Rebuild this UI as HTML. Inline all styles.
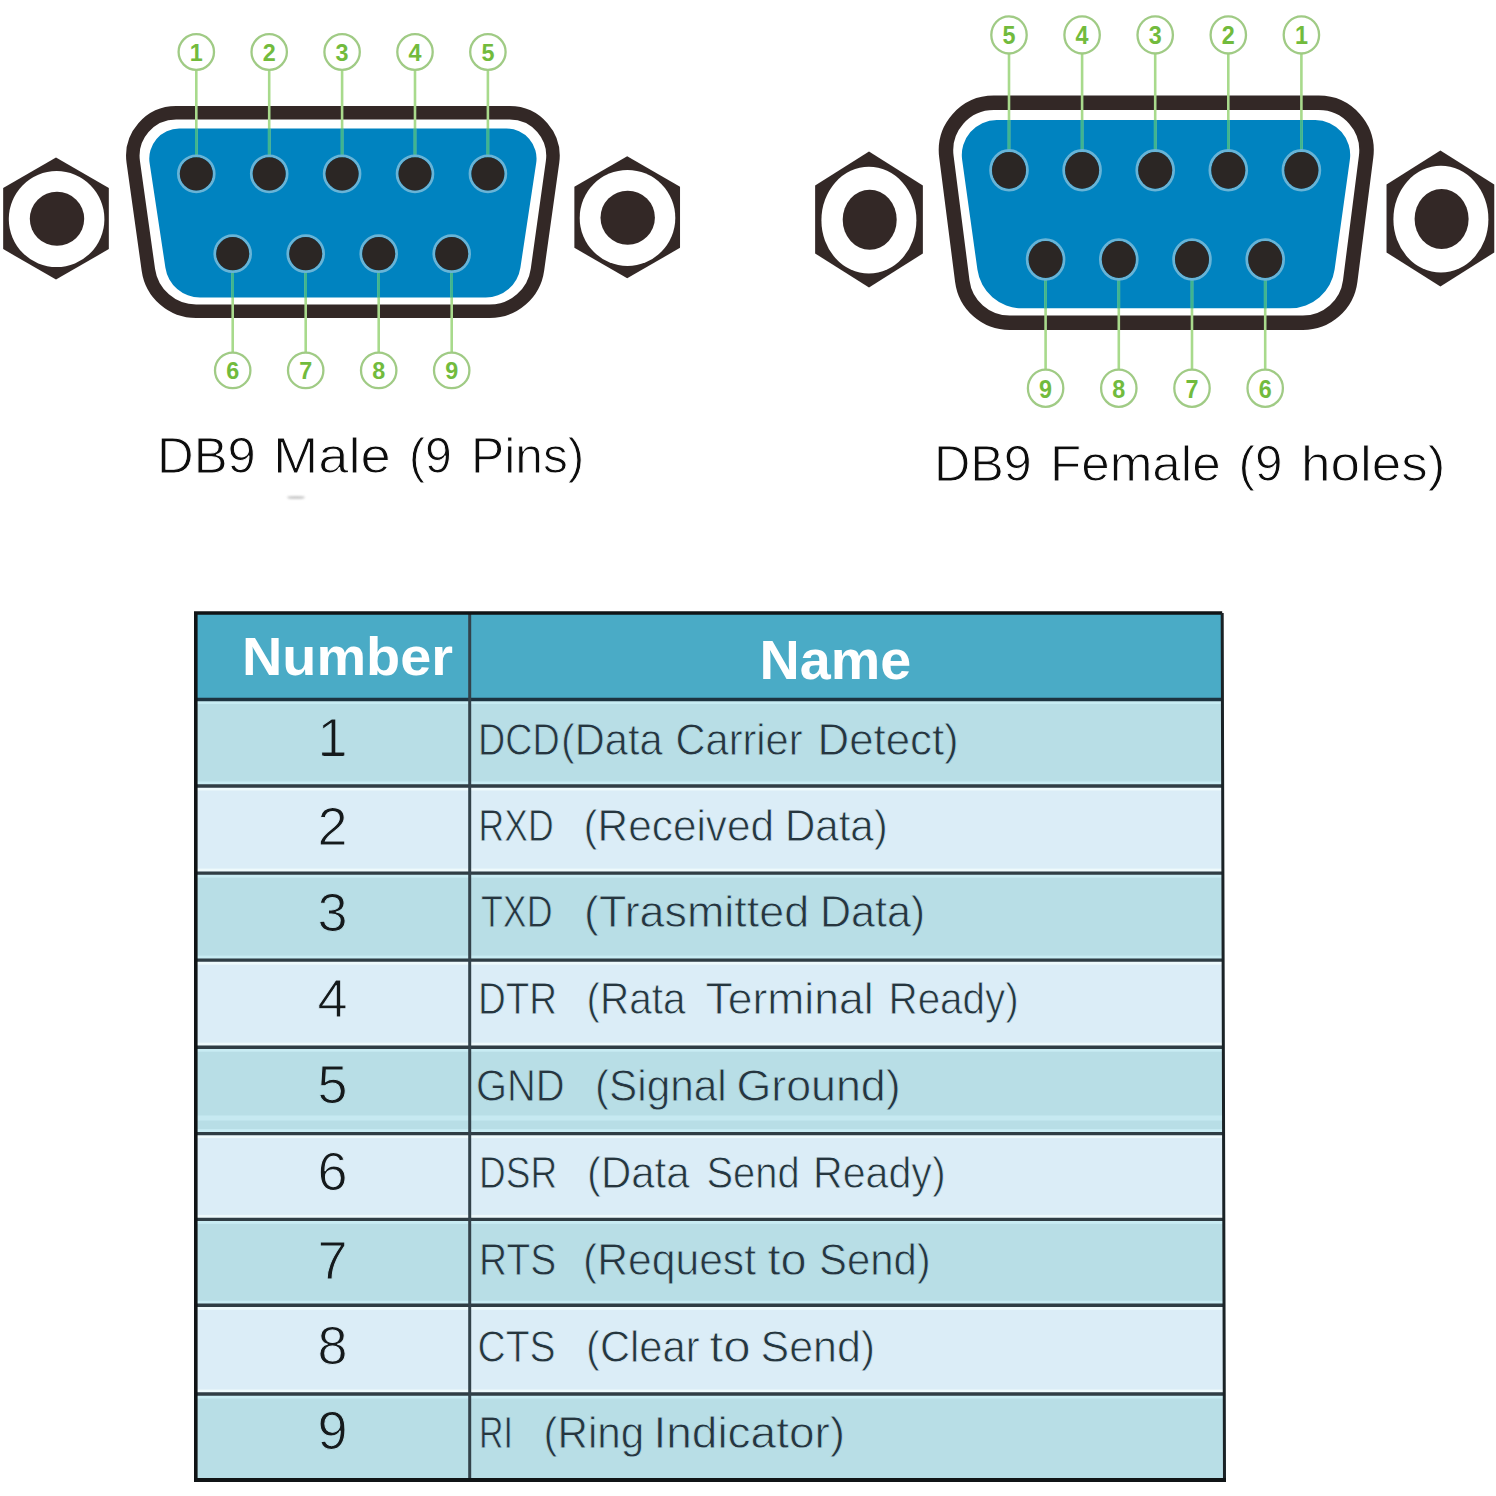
<!DOCTYPE html>
<html><head><meta charset="utf-8"><style>
html,body{margin:0;padding:0;background:#fff;width:1496px;height:1496px;overflow:hidden;}
svg{display:block;}
text{font-family:"Liberation Sans",sans-serif;}
</style></head><body>
<svg width="1496" height="1496" viewBox="0 0 1496 1496">
<rect width="1496" height="1496" fill="#fff"/>
<path d="M148.35,269.69 L133.26,162.00 A43.25,43.25 0 0 1 176.09,112.75 L509.71,112.75 A43.25,43.25 0 0 1 552.54,162.00 L537.45,269.69 A48.25,48.25 0 0 1 489.67,311.25 L196.13,311.25 A48.25,48.25 0 0 1 148.35,269.69 Z" fill="#fff" stroke="#332826" stroke-width="13.50"/>
<path d="M165.41,267.72 L149.60,162.98 A30.00,30.00 0 0 1 179.27,128.50 L506.53,128.50 A30.00,30.00 0 0 1 536.20,162.98 L520.39,267.72 A35.00,35.00 0 0 1 485.78,297.50 L200.02,297.50 A35.00,35.00 0 0 1 165.41,267.72 Z" fill="#0083c0"/>
<polygon points="56.00,157.60 108.83,188.10 108.83,249.10 56.00,279.60 3.17,249.10 3.17,188.10" fill="#332826"/>
<ellipse cx="56.60" cy="219.10" rx="47.80" ry="48.00" fill="#fff"/>
<ellipse cx="57.00" cy="218.80" rx="27.20" ry="27.00" fill="#332826"/>
<polygon points="627.20,156.30 680.03,186.80 680.03,247.80 627.20,278.30 574.37,247.80 574.37,186.80" fill="#332826"/>
<ellipse cx="627.50" cy="217.90" rx="47.80" ry="48.00" fill="#fff"/>
<ellipse cx="627.70" cy="217.70" rx="27.20" ry="27.00" fill="#332826"/>
<line x1="196.30" y1="52.00" x2="196.30" y2="173.80" stroke="#a8da8c" stroke-width="2.6"/>
<line x1="269.20" y1="52.00" x2="269.20" y2="173.80" stroke="#a8da8c" stroke-width="2.6"/>
<line x1="342.10" y1="52.00" x2="342.10" y2="173.80" stroke="#a8da8c" stroke-width="2.6"/>
<line x1="415.00" y1="52.00" x2="415.00" y2="173.80" stroke="#a8da8c" stroke-width="2.6"/>
<line x1="487.90" y1="52.00" x2="487.90" y2="173.80" stroke="#a8da8c" stroke-width="2.6"/>
<line x1="232.70" y1="370.40" x2="232.70" y2="253.70" stroke="#a8da8c" stroke-width="2.6"/>
<line x1="305.70" y1="370.40" x2="305.70" y2="253.70" stroke="#a8da8c" stroke-width="2.6"/>
<line x1="378.70" y1="370.40" x2="378.70" y2="253.70" stroke="#a8da8c" stroke-width="2.6"/>
<line x1="451.70" y1="370.40" x2="451.70" y2="253.70" stroke="#a8da8c" stroke-width="2.6"/>
<line x1="196.30" y1="128.50" x2="196.30" y2="173.80" stroke="#3fb58f" stroke-width="2.6"/>
<line x1="269.20" y1="128.50" x2="269.20" y2="173.80" stroke="#3fb58f" stroke-width="2.6"/>
<line x1="342.10" y1="128.50" x2="342.10" y2="173.80" stroke="#3fb58f" stroke-width="2.6"/>
<line x1="415.00" y1="128.50" x2="415.00" y2="173.80" stroke="#3fb58f" stroke-width="2.6"/>
<line x1="487.90" y1="128.50" x2="487.90" y2="173.80" stroke="#3fb58f" stroke-width="2.6"/>
<line x1="232.70" y1="253.70" x2="232.70" y2="297.50" stroke="#3fb58f" stroke-width="2.6"/>
<line x1="305.70" y1="253.70" x2="305.70" y2="297.50" stroke="#3fb58f" stroke-width="2.6"/>
<line x1="378.70" y1="253.70" x2="378.70" y2="297.50" stroke="#3fb58f" stroke-width="2.6"/>
<line x1="451.70" y1="253.70" x2="451.70" y2="297.50" stroke="#3fb58f" stroke-width="2.6"/>
<ellipse cx="196.30" cy="173.80" rx="17.90" ry="18.00" fill="none" stroke="#68b4d7" stroke-width="2.8"/>
<ellipse cx="196.30" cy="173.80" rx="16.50" ry="16.60" fill="#2b2624"/>
<ellipse cx="196.30" cy="52.00" rx="17.70" ry="17.80" fill="#fff" stroke="#a0cb85" stroke-width="2.3"/>
<text x="196.30" y="60.60" font-family="Liberation Sans" font-weight="bold" font-size="24.0" fill="#72bb3d" text-anchor="middle" textLength="13.0" lengthAdjust="spacingAndGlyphs">1</text>
<ellipse cx="269.20" cy="173.80" rx="17.90" ry="18.00" fill="none" stroke="#68b4d7" stroke-width="2.8"/>
<ellipse cx="269.20" cy="173.80" rx="16.50" ry="16.60" fill="#2b2624"/>
<ellipse cx="269.20" cy="52.00" rx="17.70" ry="17.80" fill="#fff" stroke="#a0cb85" stroke-width="2.3"/>
<text x="269.20" y="60.60" font-family="Liberation Sans" font-weight="bold" font-size="24.0" fill="#72bb3d" text-anchor="middle" textLength="13.0" lengthAdjust="spacingAndGlyphs">2</text>
<ellipse cx="342.10" cy="173.80" rx="17.90" ry="18.00" fill="none" stroke="#68b4d7" stroke-width="2.8"/>
<ellipse cx="342.10" cy="173.80" rx="16.50" ry="16.60" fill="#2b2624"/>
<ellipse cx="342.10" cy="52.00" rx="17.70" ry="17.80" fill="#fff" stroke="#a0cb85" stroke-width="2.3"/>
<text x="342.10" y="60.60" font-family="Liberation Sans" font-weight="bold" font-size="24.0" fill="#72bb3d" text-anchor="middle" textLength="13.0" lengthAdjust="spacingAndGlyphs">3</text>
<ellipse cx="415.00" cy="173.80" rx="17.90" ry="18.00" fill="none" stroke="#68b4d7" stroke-width="2.8"/>
<ellipse cx="415.00" cy="173.80" rx="16.50" ry="16.60" fill="#2b2624"/>
<ellipse cx="415.00" cy="52.00" rx="17.70" ry="17.80" fill="#fff" stroke="#a0cb85" stroke-width="2.3"/>
<text x="415.00" y="60.60" font-family="Liberation Sans" font-weight="bold" font-size="24.0" fill="#72bb3d" text-anchor="middle" textLength="13.0" lengthAdjust="spacingAndGlyphs">4</text>
<ellipse cx="487.90" cy="173.80" rx="17.90" ry="18.00" fill="none" stroke="#68b4d7" stroke-width="2.8"/>
<ellipse cx="487.90" cy="173.80" rx="16.50" ry="16.60" fill="#2b2624"/>
<ellipse cx="487.90" cy="52.00" rx="17.70" ry="17.80" fill="#fff" stroke="#a0cb85" stroke-width="2.3"/>
<text x="487.90" y="60.60" font-family="Liberation Sans" font-weight="bold" font-size="24.0" fill="#72bb3d" text-anchor="middle" textLength="13.0" lengthAdjust="spacingAndGlyphs">5</text>
<ellipse cx="232.70" cy="253.70" rx="17.90" ry="18.00" fill="none" stroke="#68b4d7" stroke-width="2.8"/>
<ellipse cx="232.70" cy="253.70" rx="16.50" ry="16.60" fill="#2b2624"/>
<ellipse cx="232.70" cy="370.40" rx="17.70" ry="17.80" fill="#fff" stroke="#a0cb85" stroke-width="2.3"/>
<text x="232.70" y="379.00" font-family="Liberation Sans" font-weight="bold" font-size="24.0" fill="#72bb3d" text-anchor="middle" textLength="13.0" lengthAdjust="spacingAndGlyphs">6</text>
<ellipse cx="305.70" cy="253.70" rx="17.90" ry="18.00" fill="none" stroke="#68b4d7" stroke-width="2.8"/>
<ellipse cx="305.70" cy="253.70" rx="16.50" ry="16.60" fill="#2b2624"/>
<ellipse cx="305.70" cy="370.40" rx="17.70" ry="17.80" fill="#fff" stroke="#a0cb85" stroke-width="2.3"/>
<text x="305.70" y="379.00" font-family="Liberation Sans" font-weight="bold" font-size="24.0" fill="#72bb3d" text-anchor="middle" textLength="13.0" lengthAdjust="spacingAndGlyphs">7</text>
<ellipse cx="378.70" cy="253.70" rx="17.90" ry="18.00" fill="none" stroke="#68b4d7" stroke-width="2.8"/>
<ellipse cx="378.70" cy="253.70" rx="16.50" ry="16.60" fill="#2b2624"/>
<ellipse cx="378.70" cy="370.40" rx="17.70" ry="17.80" fill="#fff" stroke="#a0cb85" stroke-width="2.3"/>
<text x="378.70" y="379.00" font-family="Liberation Sans" font-weight="bold" font-size="24.0" fill="#72bb3d" text-anchor="middle" textLength="13.0" lengthAdjust="spacingAndGlyphs">8</text>
<ellipse cx="451.70" cy="253.70" rx="17.90" ry="18.00" fill="none" stroke="#68b4d7" stroke-width="2.8"/>
<ellipse cx="451.70" cy="253.70" rx="16.50" ry="16.60" fill="#2b2624"/>
<ellipse cx="451.70" cy="370.40" rx="17.70" ry="17.80" fill="#fff" stroke="#a0cb85" stroke-width="2.3"/>
<text x="451.70" y="379.00" font-family="Liberation Sans" font-weight="bold" font-size="24.0" fill="#72bb3d" text-anchor="middle" textLength="13.0" lengthAdjust="spacingAndGlyphs">9</text>
<path d="M962.30,281.05 L946.39,156.55 A47.75,47.75 0 0 1 993.76,102.75 L1318.74,102.75 A47.75,47.75 0 0 1 1366.11,156.55 L1350.20,281.05 A47.75,47.75 0 0 1 1302.83,322.75 L1009.67,322.75 A47.75,47.75 0 0 1 962.30,281.05 Z" fill="#fff" stroke="#332826" stroke-width="14.50"/>
<path d="M977.40,269.50 L962.14,159.82 A35.00,35.00 0 0 1 996.81,120.00 L1315.19,120.00 A35.00,35.00 0 0 1 1349.86,159.82 L1334.60,269.50 A45.00,45.00 0 0 1 1290.03,308.30 L1021.97,308.30 A45.00,45.00 0 0 1 977.40,269.50 Z" fill="#0083c0"/>
<polygon points="869.00,151.52 922.87,185.51 922.87,253.49 869.00,287.48 815.13,253.49 815.13,185.51" fill="#332826"/>
<ellipse cx="868.90" cy="220.20" rx="47.50" ry="53.40" fill="#fff"/>
<ellipse cx="869.70" cy="219.70" rx="27.00" ry="30.00" fill="#332826"/>
<polygon points="1440.40,150.52 1494.27,184.51 1494.27,252.49 1440.40,286.48 1386.53,252.49 1386.53,184.51" fill="#332826"/>
<ellipse cx="1440.90" cy="219.20" rx="47.50" ry="53.40" fill="#fff"/>
<ellipse cx="1441.60" cy="219.00" rx="27.00" ry="30.00" fill="#332826"/>
<line x1="1009.00" y1="34.90" x2="1009.00" y2="170.30" stroke="#a8da8c" stroke-width="2.6"/>
<line x1="1082.10" y1="34.90" x2="1082.10" y2="170.30" stroke="#a8da8c" stroke-width="2.6"/>
<line x1="1155.20" y1="34.90" x2="1155.20" y2="170.30" stroke="#a8da8c" stroke-width="2.6"/>
<line x1="1228.30" y1="34.90" x2="1228.30" y2="170.30" stroke="#a8da8c" stroke-width="2.6"/>
<line x1="1301.40" y1="34.90" x2="1301.40" y2="170.30" stroke="#a8da8c" stroke-width="2.6"/>
<line x1="1045.60" y1="388.20" x2="1045.60" y2="259.50" stroke="#a8da8c" stroke-width="2.6"/>
<line x1="1118.80" y1="388.20" x2="1118.80" y2="259.50" stroke="#a8da8c" stroke-width="2.6"/>
<line x1="1192.00" y1="388.20" x2="1192.00" y2="259.50" stroke="#a8da8c" stroke-width="2.6"/>
<line x1="1265.20" y1="388.20" x2="1265.20" y2="259.50" stroke="#a8da8c" stroke-width="2.6"/>
<line x1="1009.00" y1="120.00" x2="1009.00" y2="170.30" stroke="#3fb58f" stroke-width="2.6"/>
<line x1="1082.10" y1="120.00" x2="1082.10" y2="170.30" stroke="#3fb58f" stroke-width="2.6"/>
<line x1="1155.20" y1="120.00" x2="1155.20" y2="170.30" stroke="#3fb58f" stroke-width="2.6"/>
<line x1="1228.30" y1="120.00" x2="1228.30" y2="170.30" stroke="#3fb58f" stroke-width="2.6"/>
<line x1="1301.40" y1="120.00" x2="1301.40" y2="170.30" stroke="#3fb58f" stroke-width="2.6"/>
<line x1="1045.60" y1="259.50" x2="1045.60" y2="308.30" stroke="#3fb58f" stroke-width="2.6"/>
<line x1="1118.80" y1="259.50" x2="1118.80" y2="308.30" stroke="#3fb58f" stroke-width="2.6"/>
<line x1="1192.00" y1="259.50" x2="1192.00" y2="308.30" stroke="#3fb58f" stroke-width="2.6"/>
<line x1="1265.20" y1="259.50" x2="1265.20" y2="308.30" stroke="#3fb58f" stroke-width="2.6"/>
<ellipse cx="1009.00" cy="170.30" rx="18.40" ry="19.80" fill="none" stroke="#68b4d7" stroke-width="2.8"/>
<ellipse cx="1009.00" cy="170.30" rx="17.00" ry="18.40" fill="#2b2624"/>
<ellipse cx="1009.00" cy="34.90" rx="17.70" ry="18.60" fill="#fff" stroke="#a0cb85" stroke-width="2.3"/>
<text x="1009.00" y="44.40" font-family="Liberation Sans" font-weight="bold" font-size="26.0" fill="#72bb3d" text-anchor="middle" textLength="13.0" lengthAdjust="spacingAndGlyphs">5</text>
<ellipse cx="1082.10" cy="170.30" rx="18.40" ry="19.80" fill="none" stroke="#68b4d7" stroke-width="2.8"/>
<ellipse cx="1082.10" cy="170.30" rx="17.00" ry="18.40" fill="#2b2624"/>
<ellipse cx="1082.10" cy="34.90" rx="17.70" ry="18.60" fill="#fff" stroke="#a0cb85" stroke-width="2.3"/>
<text x="1082.10" y="44.40" font-family="Liberation Sans" font-weight="bold" font-size="26.0" fill="#72bb3d" text-anchor="middle" textLength="13.0" lengthAdjust="spacingAndGlyphs">4</text>
<ellipse cx="1155.20" cy="170.30" rx="18.40" ry="19.80" fill="none" stroke="#68b4d7" stroke-width="2.8"/>
<ellipse cx="1155.20" cy="170.30" rx="17.00" ry="18.40" fill="#2b2624"/>
<ellipse cx="1155.20" cy="34.90" rx="17.70" ry="18.60" fill="#fff" stroke="#a0cb85" stroke-width="2.3"/>
<text x="1155.20" y="44.40" font-family="Liberation Sans" font-weight="bold" font-size="26.0" fill="#72bb3d" text-anchor="middle" textLength="13.0" lengthAdjust="spacingAndGlyphs">3</text>
<ellipse cx="1228.30" cy="170.30" rx="18.40" ry="19.80" fill="none" stroke="#68b4d7" stroke-width="2.8"/>
<ellipse cx="1228.30" cy="170.30" rx="17.00" ry="18.40" fill="#2b2624"/>
<ellipse cx="1228.30" cy="34.90" rx="17.70" ry="18.60" fill="#fff" stroke="#a0cb85" stroke-width="2.3"/>
<text x="1228.30" y="44.40" font-family="Liberation Sans" font-weight="bold" font-size="26.0" fill="#72bb3d" text-anchor="middle" textLength="13.0" lengthAdjust="spacingAndGlyphs">2</text>
<ellipse cx="1301.40" cy="170.30" rx="18.40" ry="19.80" fill="none" stroke="#68b4d7" stroke-width="2.8"/>
<ellipse cx="1301.40" cy="170.30" rx="17.00" ry="18.40" fill="#2b2624"/>
<ellipse cx="1301.40" cy="34.90" rx="17.70" ry="18.60" fill="#fff" stroke="#a0cb85" stroke-width="2.3"/>
<text x="1301.40" y="44.40" font-family="Liberation Sans" font-weight="bold" font-size="26.0" fill="#72bb3d" text-anchor="middle" textLength="13.0" lengthAdjust="spacingAndGlyphs">1</text>
<ellipse cx="1045.60" cy="259.50" rx="18.40" ry="19.80" fill="none" stroke="#68b4d7" stroke-width="2.8"/>
<ellipse cx="1045.60" cy="259.50" rx="17.00" ry="18.40" fill="#2b2624"/>
<ellipse cx="1045.60" cy="388.20" rx="17.70" ry="18.60" fill="#fff" stroke="#a0cb85" stroke-width="2.3"/>
<text x="1045.60" y="397.70" font-family="Liberation Sans" font-weight="bold" font-size="26.0" fill="#72bb3d" text-anchor="middle" textLength="13.0" lengthAdjust="spacingAndGlyphs">9</text>
<ellipse cx="1118.80" cy="259.50" rx="18.40" ry="19.80" fill="none" stroke="#68b4d7" stroke-width="2.8"/>
<ellipse cx="1118.80" cy="259.50" rx="17.00" ry="18.40" fill="#2b2624"/>
<ellipse cx="1118.80" cy="388.20" rx="17.70" ry="18.60" fill="#fff" stroke="#a0cb85" stroke-width="2.3"/>
<text x="1118.80" y="397.70" font-family="Liberation Sans" font-weight="bold" font-size="26.0" fill="#72bb3d" text-anchor="middle" textLength="13.0" lengthAdjust="spacingAndGlyphs">8</text>
<ellipse cx="1192.00" cy="259.50" rx="18.40" ry="19.80" fill="none" stroke="#68b4d7" stroke-width="2.8"/>
<ellipse cx="1192.00" cy="259.50" rx="17.00" ry="18.40" fill="#2b2624"/>
<ellipse cx="1192.00" cy="388.20" rx="17.70" ry="18.60" fill="#fff" stroke="#a0cb85" stroke-width="2.3"/>
<text x="1192.00" y="397.70" font-family="Liberation Sans" font-weight="bold" font-size="26.0" fill="#72bb3d" text-anchor="middle" textLength="13.0" lengthAdjust="spacingAndGlyphs">7</text>
<ellipse cx="1265.20" cy="259.50" rx="18.40" ry="19.80" fill="none" stroke="#68b4d7" stroke-width="2.8"/>
<ellipse cx="1265.20" cy="259.50" rx="17.00" ry="18.40" fill="#2b2624"/>
<ellipse cx="1265.20" cy="388.20" rx="17.70" ry="18.60" fill="#fff" stroke="#a0cb85" stroke-width="2.3"/>
<text x="1265.20" y="397.70" font-family="Liberation Sans" font-weight="bold" font-size="26.0" fill="#72bb3d" text-anchor="middle" textLength="13.0" lengthAdjust="spacingAndGlyphs">6</text>
<text x="157.00" y="472.80" font-family="Liberation Sans" font-size="50" font-weight="normal" fill="#0d0d0d" stroke="#ffffff" stroke-width="1.00" textLength="98.82" lengthAdjust="spacingAndGlyphs">DB9</text>
<text x="273.00" y="472.80" font-family="Liberation Sans" font-size="50" font-weight="normal" fill="#0d0d0d" stroke="#ffffff" stroke-width="1.00" textLength="117.82" lengthAdjust="spacingAndGlyphs">Male</text>
<text x="409.00" y="472.80" font-family="Liberation Sans" font-size="50" font-weight="normal" fill="#0d0d0d" stroke="#ffffff" stroke-width="1.00" textLength="42.81" lengthAdjust="spacingAndGlyphs">(9</text>
<text x="471.00" y="472.80" font-family="Liberation Sans" font-size="50" font-weight="normal" fill="#0d0d0d" stroke="#ffffff" stroke-width="1.00" textLength="113.36" lengthAdjust="spacingAndGlyphs">Pins)</text>
<text x="934.00" y="481.10" font-family="Liberation Sans" font-size="50" font-weight="normal" fill="#0d0d0d" stroke="#ffffff" stroke-width="1.00" textLength="97.83" lengthAdjust="spacingAndGlyphs">DB9</text>
<text x="1050.00" y="481.10" font-family="Liberation Sans" font-size="50" font-weight="normal" fill="#0d0d0d" stroke="#ffffff" stroke-width="1.00" textLength="170.67" lengthAdjust="spacingAndGlyphs">Female</text>
<text x="1238.50" y="481.10" font-family="Liberation Sans" font-size="50" font-weight="normal" fill="#0d0d0d" stroke="#ffffff" stroke-width="1.00" textLength="43.92" lengthAdjust="spacingAndGlyphs">(9</text>
<text x="1301.00" y="481.10" font-family="Liberation Sans" font-size="50" font-weight="normal" fill="#0d0d0d" stroke="#ffffff" stroke-width="1.00" textLength="144.28" lengthAdjust="spacingAndGlyphs">holes)</text>
<polygon points="195.8,613.0 1222.2,613.0 1222.4,699.5 195.8,699.5" fill="#4aabc6"/>
<polygon points="195.8,699.5 1222.4,699.5 1222.7,786.0 195.8,786.0" fill="#b8dee6"/>
<polygon points="195.8,786.0 1222.7,786.0 1222.9,873.1 195.8,873.1" fill="#dbedf7"/>
<polygon points="195.8,873.1 1222.9,873.1 1223.1,960.1 195.8,960.1" fill="#b8dee6"/>
<polygon points="195.8,960.1 1223.1,960.1 1223.4,1047.2 195.8,1047.2" fill="#dbedf7"/>
<polygon points="195.8,1047.2 1223.4,1047.2 1223.6,1133.6 195.8,1133.6" fill="#b8dee6"/>
<polygon points="195.8,1133.6 1223.6,1133.6 1223.8,1219.4 195.8,1219.4" fill="#dbedf7"/>
<polygon points="195.8,1219.4 1223.8,1219.4 1224.0,1305.3 195.8,1305.3" fill="#b8dee6"/>
<polygon points="195.8,1305.3 1224.0,1305.3 1224.3,1394.0 195.8,1394.0" fill="#dbedf7"/>
<polygon points="195.8,1394.0 1224.3,1394.0 1224.5,1479.5 195.8,1479.5" fill="#b8dee6"/>
<rect x="195.8" y="1115.5" width="1027.7" height="5" fill="#c6e9f1"/>
<rect x="195.8" y="701.0" width="1026.6" height="3" fill="#c8ecf3"/>
<rect x="195.8" y="781.5" width="1026.9" height="3" fill="#c8ecf3"/>
<rect x="195.8" y="787.5" width="1026.9" height="3" fill="#eefafc"/>
<rect x="195.8" y="868.6" width="1027.1" height="3" fill="#eefafc"/>
<rect x="195.8" y="874.6" width="1027.1" height="3" fill="#c8ecf3"/>
<rect x="195.8" y="955.6" width="1027.3" height="3" fill="#c8ecf3"/>
<rect x="195.8" y="961.6" width="1027.3" height="3" fill="#eefafc"/>
<rect x="195.8" y="1042.7" width="1027.6" height="3" fill="#eefafc"/>
<rect x="195.8" y="1048.7" width="1027.6" height="3" fill="#c8ecf3"/>
<rect x="195.8" y="1129.1" width="1027.8" height="3" fill="#c8ecf3"/>
<rect x="195.8" y="1135.1" width="1027.8" height="3" fill="#eefafc"/>
<rect x="195.8" y="1214.9" width="1028.0" height="3" fill="#eefafc"/>
<rect x="195.8" y="1220.9" width="1028.0" height="3" fill="#c8ecf3"/>
<rect x="195.8" y="1300.8" width="1028.2" height="3" fill="#c8ecf3"/>
<rect x="195.8" y="1306.8" width="1028.2" height="3" fill="#eefafc"/>
<rect x="195.8" y="1389.5" width="1028.5" height="3" fill="#eefafc"/>
<rect x="195.8" y="1395.5" width="1028.5" height="3" fill="#c8ecf3"/>
<line x1="195.8" y1="699.5" x2="1222.4" y2="699.5" stroke="#1d3340" stroke-width="3.4"/>
<line x1="195.8" y1="786.0" x2="1222.7" y2="786.0" stroke="#2f3d44" stroke-width="3.4"/>
<line x1="195.8" y1="873.1" x2="1222.9" y2="873.1" stroke="#2f3d44" stroke-width="3.4"/>
<line x1="195.8" y1="960.1" x2="1223.1" y2="960.1" stroke="#2f3d44" stroke-width="3.4"/>
<line x1="195.8" y1="1047.2" x2="1223.4" y2="1047.2" stroke="#2f3d44" stroke-width="3.4"/>
<line x1="195.8" y1="1133.6" x2="1223.6" y2="1133.6" stroke="#2f3d44" stroke-width="3.4"/>
<line x1="195.8" y1="1219.4" x2="1223.8" y2="1219.4" stroke="#2f3d44" stroke-width="3.4"/>
<line x1="195.8" y1="1305.3" x2="1224.0" y2="1305.3" stroke="#2f3d44" stroke-width="3.4"/>
<line x1="195.8" y1="1394.0" x2="1224.3" y2="1394.0" stroke="#2f3d44" stroke-width="3.4"/>
<line x1="469.7" y1="613.0" x2="469.7" y2="1480.0" stroke="#33424a" stroke-width="3"/>
<polyline points="195.8,1480.0 195.8,613.0 1222.2,613.0" fill="none" stroke="#101416" stroke-width="3.6"/>
<polyline points="1222.2,613.0 1224.5,1480.0 195.8,1480.0" fill="none" stroke="#1a2226" stroke-width="3"/>
<line x1="194.0" y1="1480.0" x2="1226.0" y2="1480.0" stroke="#101416" stroke-width="4"/>
<defs><filter id="blr" x="-50%" y="-200%" width="200%" height="500%"><feGaussianBlur stdDeviation="1.2"/></filter></defs>
<ellipse cx="296" cy="497.5" rx="9" ry="1.6" fill="#888" opacity="0.45" filter="url(#blr)"/>
<text x="242.00" y="674.50" font-family="Liberation Sans" font-size="53" font-weight="bold" fill="#fff" textLength="211.06" lengthAdjust="spacingAndGlyphs">Number</text>
<text x="759.50" y="679.30" font-family="Liberation Sans" font-size="55" font-weight="bold" fill="#fff" textLength="151.66" lengthAdjust="spacingAndGlyphs">Name</text>
<text x="332.5" y="756.3" font-family="Liberation Sans" font-size="54" fill="#151a1c" stroke="#b8dee6" stroke-width="1.0" text-anchor="middle">1</text>
<text x="478.00" y="755.10" font-family="Liberation Sans" font-size="45" font-weight="normal" fill="#26363f" stroke="#b8dee6" stroke-width="0.80" textLength="81.65" lengthAdjust="spacingAndGlyphs">DCD</text>
<text x="561.00" y="755.10" font-family="Liberation Sans" font-size="45" font-weight="normal" fill="#26363f" stroke="#b8dee6" stroke-width="0.80" textLength="101.52" lengthAdjust="spacingAndGlyphs">(Data</text>
<text x="675.50" y="755.10" font-family="Liberation Sans" font-size="45" font-weight="normal" fill="#26363f" stroke="#b8dee6" stroke-width="0.80" textLength="127.03" lengthAdjust="spacingAndGlyphs">Carrier</text>
<text x="817.50" y="755.10" font-family="Liberation Sans" font-size="45" font-weight="normal" fill="#26363f" stroke="#b8dee6" stroke-width="0.80" textLength="141.16" lengthAdjust="spacingAndGlyphs">Detect)</text>
<text x="332.5" y="844.6" font-family="Liberation Sans" font-size="54" fill="#151a1c" stroke="#dbedf7" stroke-width="1.0" text-anchor="middle">2</text>
<text x="478.50" y="841.30" font-family="Liberation Sans" font-size="45" font-weight="normal" fill="#26363f" stroke="#dbedf7" stroke-width="0.80" textLength="75.10" lengthAdjust="spacingAndGlyphs">RXD</text>
<text x="583.50" y="841.30" font-family="Liberation Sans" font-size="45" font-weight="normal" fill="#26363f" stroke="#dbedf7" stroke-width="0.80" textLength="190.60" lengthAdjust="spacingAndGlyphs">(Received</text>
<text x="785.00" y="841.30" font-family="Liberation Sans" font-size="45" font-weight="normal" fill="#26363f" stroke="#dbedf7" stroke-width="0.80" textLength="102.70" lengthAdjust="spacingAndGlyphs">Data)</text>
<text x="332.5" y="930.8" font-family="Liberation Sans" font-size="54" fill="#151a1c" stroke="#b8dee6" stroke-width="1.0" text-anchor="middle">3</text>
<text x="481.00" y="927.30" font-family="Liberation Sans" font-size="45" font-weight="normal" fill="#26363f" stroke="#b8dee6" stroke-width="0.80" textLength="71.52" lengthAdjust="spacingAndGlyphs">TXD</text>
<text x="584.00" y="927.30" font-family="Liberation Sans" font-size="45" font-weight="normal" fill="#26363f" stroke="#b8dee6" stroke-width="0.80" textLength="225.08" lengthAdjust="spacingAndGlyphs">(Trasmitted</text>
<text x="820.00" y="927.30" font-family="Liberation Sans" font-size="45" font-weight="normal" fill="#26363f" stroke="#b8dee6" stroke-width="0.80" textLength="105.16" lengthAdjust="spacingAndGlyphs">Data)</text>
<text x="332.5" y="1017.0" font-family="Liberation Sans" font-size="54" fill="#151a1c" stroke="#dbedf7" stroke-width="1.0" text-anchor="middle">4</text>
<text x="478.00" y="1014.20" font-family="Liberation Sans" font-size="45" font-weight="normal" fill="#26363f" stroke="#dbedf7" stroke-width="0.80" textLength="79.17" lengthAdjust="spacingAndGlyphs">DTR</text>
<text x="586.50" y="1014.20" font-family="Liberation Sans" font-size="45" font-weight="normal" fill="#26363f" stroke="#dbedf7" stroke-width="0.80" textLength="99.02" lengthAdjust="spacingAndGlyphs">(Rata</text>
<text x="705.50" y="1014.20" font-family="Liberation Sans" font-size="45" font-weight="normal" fill="#26363f" stroke="#dbedf7" stroke-width="0.80" textLength="168.04" lengthAdjust="spacingAndGlyphs">Terminal</text>
<text x="888.50" y="1014.20" font-family="Liberation Sans" font-size="45" font-weight="normal" fill="#26363f" stroke="#dbedf7" stroke-width="0.80" textLength="130.14" lengthAdjust="spacingAndGlyphs">Ready)</text>
<text x="332.5" y="1103.1" font-family="Liberation Sans" font-size="54" fill="#151a1c" stroke="#b8dee6" stroke-width="1.0" text-anchor="middle">5</text>
<text x="476.00" y="1100.80" font-family="Liberation Sans" font-size="45" font-weight="normal" fill="#26363f" stroke="#b8dee6" stroke-width="0.80" textLength="88.56" lengthAdjust="spacingAndGlyphs">GND</text>
<text x="595.00" y="1100.80" font-family="Liberation Sans" font-size="45" font-weight="normal" fill="#26363f" stroke="#b8dee6" stroke-width="0.80" textLength="131.59" lengthAdjust="spacingAndGlyphs">(Signal</text>
<text x="736.50" y="1100.80" font-family="Liberation Sans" font-size="45" font-weight="normal" fill="#26363f" stroke="#b8dee6" stroke-width="0.80" textLength="164.06" lengthAdjust="spacingAndGlyphs">Ground)</text>
<text x="332.5" y="1189.9" font-family="Liberation Sans" font-size="54" fill="#151a1c" stroke="#dbedf7" stroke-width="1.0" text-anchor="middle">6</text>
<text x="479.00" y="1188.20" font-family="Liberation Sans" font-size="45" font-weight="normal" fill="#26363f" stroke="#dbedf7" stroke-width="0.80" textLength="78.13" lengthAdjust="spacingAndGlyphs">DSR</text>
<text x="587.00" y="1188.20" font-family="Liberation Sans" font-size="45" font-weight="normal" fill="#26363f" stroke="#dbedf7" stroke-width="0.80" textLength="102.52" lengthAdjust="spacingAndGlyphs">(Data</text>
<text x="706.50" y="1188.20" font-family="Liberation Sans" font-size="45" font-weight="normal" fill="#26363f" stroke="#dbedf7" stroke-width="0.80" textLength="93.07" lengthAdjust="spacingAndGlyphs">Send</text>
<text x="813.00" y="1188.20" font-family="Liberation Sans" font-size="45" font-weight="normal" fill="#26363f" stroke="#dbedf7" stroke-width="0.80" textLength="132.62" lengthAdjust="spacingAndGlyphs">Ready)</text>
<text x="332.5" y="1278.7" font-family="Liberation Sans" font-size="54" fill="#151a1c" stroke="#b8dee6" stroke-width="1.0" text-anchor="middle">7</text>
<text x="479.00" y="1275.10" font-family="Liberation Sans" font-size="45" font-weight="normal" fill="#26363f" stroke="#b8dee6" stroke-width="0.80" textLength="77.14" lengthAdjust="spacingAndGlyphs">RTS</text>
<text x="583.00" y="1275.10" font-family="Liberation Sans" font-size="45" font-weight="normal" fill="#26363f" stroke="#b8dee6" stroke-width="0.80" textLength="173.02" lengthAdjust="spacingAndGlyphs">(Request</text>
<text x="767.50" y="1275.10" font-family="Liberation Sans" font-size="45" font-weight="normal" fill="#26363f" stroke="#b8dee6" stroke-width="0.80" textLength="39.07" lengthAdjust="spacingAndGlyphs">to</text>
<text x="819.00" y="1275.10" font-family="Liberation Sans" font-size="45" font-weight="normal" fill="#26363f" stroke="#b8dee6" stroke-width="0.80" textLength="111.60" lengthAdjust="spacingAndGlyphs">Send)</text>
<text x="332.5" y="1364.2" font-family="Liberation Sans" font-size="54" fill="#151a1c" stroke="#dbedf7" stroke-width="1.0" text-anchor="middle">8</text>
<text x="477.50" y="1361.70" font-family="Liberation Sans" font-size="45" font-weight="normal" fill="#26363f" stroke="#dbedf7" stroke-width="0.80" textLength="78.06" lengthAdjust="spacingAndGlyphs">CTS</text>
<text x="586.00" y="1361.70" font-family="Liberation Sans" font-size="45" font-weight="normal" fill="#26363f" stroke="#dbedf7" stroke-width="0.80" textLength="113.53" lengthAdjust="spacingAndGlyphs">(Clear</text>
<text x="709.50" y="1361.70" font-family="Liberation Sans" font-size="45" font-weight="normal" fill="#26363f" stroke="#dbedf7" stroke-width="0.80" textLength="41.07" lengthAdjust="spacingAndGlyphs">to</text>
<text x="760.50" y="1361.70" font-family="Liberation Sans" font-size="45" font-weight="normal" fill="#26363f" stroke="#dbedf7" stroke-width="0.80" textLength="114.64" lengthAdjust="spacingAndGlyphs">Send)</text>
<text x="332.5" y="1449.1" font-family="Liberation Sans" font-size="54" fill="#151a1c" stroke="#b8dee6" stroke-width="1.0" text-anchor="middle">9</text>
<text x="479.00" y="1447.50" font-family="Liberation Sans" font-size="45" font-weight="normal" fill="#26363f" stroke="#b8dee6" stroke-width="0.80" textLength="33.89" lengthAdjust="spacingAndGlyphs">RI</text>
<text x="543.50" y="1447.50" font-family="Liberation Sans" font-size="45" font-weight="normal" fill="#26363f" stroke="#b8dee6" stroke-width="0.80" textLength="100.67" lengthAdjust="spacingAndGlyphs">(Ring</text>
<text x="653.50" y="1447.50" font-family="Liberation Sans" font-size="45" font-weight="normal" fill="#26363f" stroke="#b8dee6" stroke-width="0.80" textLength="191.65" lengthAdjust="spacingAndGlyphs">Indicator)</text>
<rect x="323.5" y="753.2" width="20" height="2.8" fill="#151a1c"/>
</svg>
</body></html>
